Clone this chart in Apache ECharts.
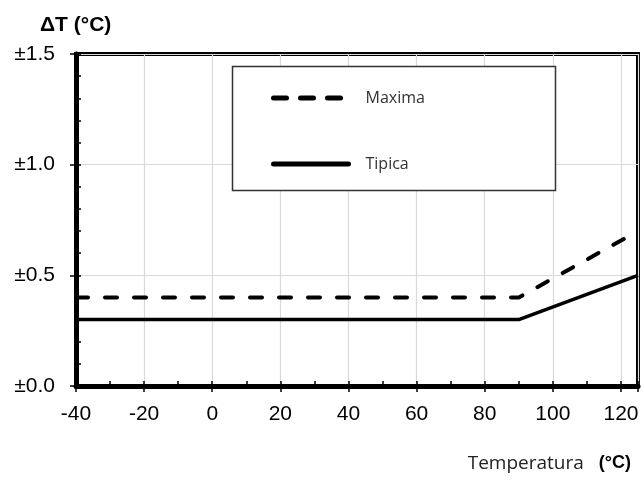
<!DOCTYPE html>
<html>
<head>
<meta charset="utf-8">
<script src="https://cdn.jsdelivr.net/npm/echarts@6/dist/echarts.min.js"></script>
<style>html,body{margin:0;padding:0;background:#fff;}#c{width:642px;height:480px;}</style>
</head>
<body>
<div id="c"></div>
<script>
// ---- data ----
const seriesNames = ['Maxima', 'Tipica'];
const maximaData = [[-40, 0.4], [90, 0.4], [125, 0.7]];
const tipicaData = [[-40, 0.3], [90, 0.3], [125, 0.5]];
const xTickValues = [-40, -20, 0, 20, 40, 60, 80, 100, 120];
const xTickLabels = ['-40', '-20', '0', '20', '40', '60', '80', '100', '120'];
const yTickValues = [0, 0.5, 1.0, 1.5];
const yTickLabels = ['±0.0', '±0.5', '±1.0', '±1.5'];
const yTitle = 'ΔT (°C)';
const xTitle = 'Temperatura';
const xUnit = '(°C)';

const chart = echarts.init(document.getElementById('c'), null, {renderer: 'canvas'});
const findLabel = (vals, labs, v) => {
  for (let i = 0; i < vals.length; i++) if (Math.abs(vals[i] - v) < 1e-6) return labs[i];
  return '';
};
const xFont = '"Liberation Sans Narrow", "Liberation Sans", Arial, sans-serif';
const yFont = '"Liberation Sans", Arial, sans-serif';
const dashStyle = {color: '#000', width: 4, type: [12, 17], cap: 'round'};
const solidStyle = {color: '#000', width: 3.5, type: 'solid'};

chart.setOption({
  animation: false,
  backgroundColor: '#fff',
  title: [
    {text: yTitle, left: 35, top: 10,
     textStyle: {fontFamily: yFont, fontSize: 21, fontWeight: 'bold', color: '#000'}},
    {text: '{a|' + xTitle + '}   {b|' + xUnit + '}', right: 6, top: 449,
     textStyle: {fontWeight: 'normal', rich: {
       a: {fontFamily: '"Open Sans", sans-serif', fontSize: 19, fontWeight: 'normal', color: '#222'},
       b: {fontFamily: yFont, fontSize: 18, fontWeight: 'bold', color: '#000'}
     }}}
  ],
  grid: {left: 76, right: 4, top: 54, bottom: 94, show: true, borderColor: '#000', borderWidth: 4, backgroundColor: 'transparent'},
  graphic: [{
    type: 'rect', z: 3, silent: true,
    shape: {x: 232.5, y: 66.5, width: 323, height: 124},
    style: {fill: '#fff', stroke: '#333', lineWidth: 1.5}
  }],
  legend: {
    orient: 'vertical', left: 271, top: 90, padding: 0, z: 5,
    itemWidth: 75, itemHeight: 14, itemGap: 50,
    itemStyle: {opacity: 0, borderWidth: 0},
    data: [
      {name: seriesNames[0], lineStyle: {color: '#000', width: 5, type: [13, 14], cap: 'round'}},
      {name: seriesNames[1], lineStyle: {color: '#000', width: 5, type: 'solid', cap: 'round'}}
    ],
    textStyle: {fontFamily: '"Open Sans", sans-serif', fontSize: 16, color: '#333', padding: [0, 0, 0, 12]}
  },
  xAxis: [
    {type: 'value', position: 'bottom', min: -40, max: 125, interval: 20,
     axisLine: {show: true, onZero: false, lineStyle: {color: '#000', width: 5}},
     axisTick: {show: true, inside: false, length: 6, lineStyle: {color: '#000', width: 1.5}},
     axisLabel: {margin: 18, fontFamily: xFont, fontSize: 21, color: '#000',
       formatter: v => findLabel(xTickValues, xTickLabels, v)},
     splitLine: {show: true, lineStyle: {color: '#d9d9d9', width: 1.2}}},
    {type: 'value', position: 'bottom', min: -40, max: 125, interval: 10,
     axisLine: {show: false, onZero: false}, axisLabel: {show: false}, splitLine: {show: false},
     axisTick: {show: true, inside: true, length: 5, lineStyle: {color: '#000', width: 1.5}}}
  ],
  yAxis: [
    {type: 'value', position: 'left', min: 0, max: 1.5, interval: 0.5,
     axisLine: {show: true, onZero: false, lineStyle: {color: '#000', width: 5}},
     axisTick: {show: true, inside: false, length: 6, lineStyle: {color: '#000', width: 1.5}},
     axisLabel: {margin: 21, fontFamily: yFont, fontSize: 21, color: '#000',
       formatter: v => findLabel(yTickValues, yTickLabels, v)},
     splitLine: {show: true, lineStyle: {color: '#d9d9d9', width: 1.2}}},
    {type: 'value', position: 'left', min: 0, max: 1.5, interval: 0.1,
     axisLine: {show: false, onZero: false}, axisLabel: {show: false}, splitLine: {show: false},
     axisTick: {show: true, inside: true, length: 5, lineStyle: {color: '#000', width: 1.5}}}
  ],
  series: [
    {name: seriesNames[0], type: 'line', data: maximaData, symbol: 'none', z: 2,
     xAxisIndex: 0, yAxisIndex: 0, itemStyle: {color: '#000'},
     lineStyle: dashStyle},
    {name: seriesNames[1], type: 'line', data: tipicaData, symbol: 'none', z: 2,
     xAxisIndex: 0, yAxisIndex: 0, itemStyle: {color: '#000'},
     lineStyle: solidStyle}
  ]
});
</script>
</body>
</html>
